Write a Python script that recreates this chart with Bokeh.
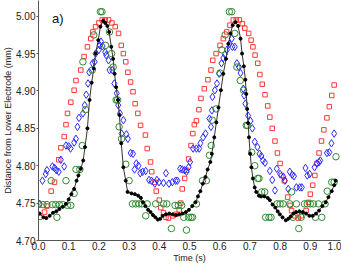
from bokeh.plotting import figure
from bokeh.models import Range1d, FixedTicker, Label
from bokeh.embed import file_html
from bokeh.resources import INLINE

# ---- data ----
black_t = [0.004, 0.017, 0.026, 0.037, 0.048, 0.059, 0.069, 0.080, 0.091, 0.100,
           0.109, 0.118, 0.126, 0.132, 0.140, 0.148, 0.154, 0.162, 0.169, 0.176,
           0.183, 0.189, 0.198, 0.205, 0.214, 0.221, 0.228, 0.234, 0.241, 0.247,
           0.252, 0.257, 0.263, 0.268, 0.274, 0.281, 0.289, 0.295, 0.308, 0.319,
           0.330, 0.339, 0.346, 0.354, 0.363, 0.371, 0.379, 0.387, 0.395, 0.403,
           0.411, 0.422, 0.433, 0.444, 0.455, 0.466, 0.477, 0.488, 0.498, 0.509,
           0.520, 0.528, 0.536, 0.544, 0.553, 0.560, 0.569, 0.574, 0.582, 0.589,
           0.596, 0.604, 0.612, 0.621, 0.629, 0.636, 0.643, 0.652, 0.661, 0.669,
           0.674, 0.680, 0.685, 0.688, 0.691, 0.694, 0.697, 0.701, 0.705, 0.710,
           0.716, 0.721, 0.730, 0.737, 0.748, 0.759, 0.766, 0.775, 0.784, 0.792,
           0.799, 0.808, 0.819, 0.827, 0.835, 0.844, 0.853, 0.864, 0.875, 0.886,
           0.897, 0.908, 0.919, 0.929, 0.940, 0.951, 0.960, 0.971, 0.979, 0.984]
black_y = [4.736, 4.731, 4.730, 4.733, 4.737, 4.739, 4.742, 4.745, 4.749, 4.755,
           4.762, 4.769, 4.780, 4.787, 4.796, 4.807, 4.825, 4.850, 4.888, 4.911,
           4.930, 4.950, 4.968, 4.986, 4.994, 4.991, 4.987, 4.979, 4.959, 4.943,
           4.923, 4.905, 4.888, 4.868, 4.830, 4.798, 4.780, 4.765, 4.763, 4.762,
           4.760, 4.757, 4.751, 4.746, 4.741, 4.738, 4.734, 4.731, 4.728, 4.729,
           4.733, 4.735, 4.736, 4.735, 4.734, 4.735, 4.736, 4.738, 4.741, 4.746,
           4.751, 4.759, 4.766, 4.776, 4.785, 4.795, 4.805, 4.816, 4.838, 4.858,
           4.878, 4.901, 4.923, 4.943, 4.963, 4.977, 4.988, 4.992, 4.987, 4.970,
           4.950, 4.933, 4.915, 4.896, 4.876, 4.857, 4.838, 4.816, 4.798, 4.783,
           4.771, 4.765, 4.760, 4.759, 4.759, 4.757, 4.754, 4.748, 4.744, 4.739,
           4.735, 4.731, 4.727, 4.729, 4.732, 4.736, 4.738, 4.739, 4.738, 4.736,
           4.733, 4.733, 4.736, 4.740, 4.746, 4.751, 4.758, 4.766, 4.774, 4.780]

red_t = [0.004, 0.020, 0.028, 0.042, 0.053, 0.067, 0.074, 0.085, 0.091, 0.096,
         0.107, 0.118, 0.124, 0.140, 0.151, 0.162, 0.173, 0.180, 0.189, 0.200,
         0.211, 0.221, 0.232, 0.243, 0.254, 0.265, 0.274, 0.281, 0.289, 0.296,
         0.305, 0.313, 0.320, 0.329, 0.338, 0.354, 0.360, 0.371, 0.375, 0.384,
         0.390, 0.400, 0.405, 0.414, 0.422, 0.430, 0.445, 0.455, 0.466, 0.471,
         0.476, 0.484, 0.490, 0.497, 0.505, 0.511, 0.516, 0.523, 0.531, 0.538,
         0.549, 0.561, 0.571, 0.577, 0.588, 0.601, 0.612, 0.623, 0.634, 0.645,
         0.655, 0.665, 0.675, 0.683, 0.696, 0.704, 0.710, 0.717, 0.726, 0.733,
         0.741, 0.750, 0.759, 0.766, 0.774, 0.783, 0.791, 0.800, 0.805, 0.814,
         0.825, 0.833, 0.838, 0.849, 0.860, 0.870, 0.886, 0.894, 0.900, 0.908,
         0.915, 0.922, 0.929, 0.937, 0.945, 0.955, 0.963, 0.971, 0.979]
red_y = [4.731, 4.738, 4.746, 4.766, 4.778, 4.808, 4.824, 4.839, 4.855, 4.870,
         4.885, 4.901, 4.914, 4.928, 4.946, 4.959, 4.970, 4.979, 4.986, 4.991,
         4.995, 4.995, 4.995, 4.991, 4.986, 4.977, 4.961, 4.950, 4.939, 4.925,
         4.912, 4.899, 4.883, 4.870, 4.854, 4.841, 4.823, 4.805, 4.792, 4.778,
         4.766, 4.754, 4.744, 4.737, 4.731, 4.730, 4.733, 4.735, 4.741, 4.750,
         4.769, 4.783, 4.794, 4.809, 4.827, 4.843, 4.855, 4.860, 4.875, 4.890,
         4.903, 4.915, 4.928, 4.941, 4.950, 4.961, 4.970, 4.979, 4.988, 4.995,
         4.995, 4.995, 4.990, 4.984, 4.977, 4.968, 4.959, 4.948, 4.937, 4.922,
         4.909, 4.895, 4.880, 4.865, 4.850, 4.833, 4.817, 4.803, 4.787, 4.780,
         4.758, 4.747, 4.740, 4.733, 4.730, 4.733, 4.740, 4.751, 4.762, 4.774,
         4.787, 4.803, 4.817, 4.833, 4.848, 4.864, 4.879, 4.894, 4.908]

blue_t = [0.004, 0.013, 0.024, 0.028, 0.046, 0.053, 0.059, 0.067, 0.074, 0.085,
          0.091, 0.100, 0.106, 0.118, 0.124, 0.129, 0.134, 0.147, 0.153, 0.158,
          0.164, 0.168, 0.179, 0.186, 0.189, 0.200, 0.203, 0.207, 0.212, 0.221,
          0.224, 0.232, 0.235, 0.244, 0.251, 0.259, 0.264, 0.270, 0.281, 0.275,
          0.291, 0.296, 0.305, 0.313, 0.318, 0.324, 0.331, 0.337, 0.345, 0.355,
          0.366, 0.374, 0.385, 0.392, 0.399, 0.414, 0.422, 0.432, 0.443, 0.454,
          0.460, 0.469, 0.476, 0.484, 0.490, 0.497, 0.502, 0.512, 0.523, 0.532,
          0.536, 0.545, 0.553, 0.566, 0.571, 0.574, 0.576, 0.584, 0.591, 0.598,
          0.606, 0.612, 0.617, 0.624, 0.632, 0.640, 0.642, 0.650, 0.657, 0.664,
          0.669, 0.678, 0.681, 0.685, 0.694, 0.702, 0.708, 0.716, 0.725, 0.732,
          0.738, 0.743, 0.750, 0.766, 0.774, 0.783, 0.789, 0.800, 0.811, 0.816,
          0.827, 0.832, 0.840, 0.846, 0.854, 0.865, 0.872, 0.884, 0.890, 0.898,
          0.914, 0.922, 0.929, 0.933, 0.955, 0.963, 0.970, 0.979]
blue_y = [4.749, 4.780, 4.789, 4.794, 4.799, 4.797, 4.794, 4.792, 4.808, 4.799,
          4.827, 4.826, 4.823, 4.831, 4.836, 4.852, 4.864, 4.870, 4.881, 4.895,
          4.910, 4.925, 4.937, 4.939, 4.950, 4.955, 4.961, 4.966, 4.960, 4.952,
          4.948, 4.941, 4.928, 4.928, 4.910, 4.897, 4.881, 4.870, 4.861, 4.843,
          4.842, 4.836, 4.817, 4.816, 4.795, 4.803, 4.800, 4.790, 4.792, 4.793,
          4.781, 4.780, 4.776, 4.781, 4.778, 4.777, 4.790, 4.776, 4.778, 4.780,
          4.780, 4.796, 4.795, 4.794, 4.792, 4.798, 4.805, 4.823, 4.823, 4.823,
          4.830, 4.838, 4.843, 4.863, 4.852, 4.874, 4.892, 4.901, 4.910, 4.923,
          4.937, 4.944, 4.949, 4.955, 4.963, 4.970, 4.959, 4.959, 4.937, 4.932,
          4.924, 4.903, 4.894, 4.883, 4.867, 4.860, 4.850, 4.832, 4.825, 4.816,
          4.813, 4.807, 4.804, 4.793, 4.781, 4.767, 4.796, 4.789, 4.785, 4.780,
          4.769, 4.792, 4.788, 4.786, 4.771, 4.771, 4.771, 4.797, 4.787, 4.789,
          4.798, 4.803, 4.805, 4.807, 4.817, 4.818, 4.830, 4.843]

green_t = [0.000, 0.015, 0.028, 0.042, 0.046, 0.057, 0.061, 0.069, 0.080, 0.091,
           0.096, 0.107, 0.118, 0.124, 0.137, 0.145, 0.147, 0.156, 0.178, 0.183,
           0.205, 0.210, 0.222, 0.235, 0.242, 0.247, 0.257, 0.262, 0.267, 0.275,
           0.289, 0.300, 0.311, 0.322, 0.333, 0.343, 0.355, 0.360, 0.388, 0.414,
           0.425, 0.440, 0.452, 0.463, 0.474, 0.481, 0.490, 0.497, 0.505, 0.510,
           0.523, 0.543, 0.556, 0.566, 0.572, 0.575, 0.588, 0.601, 0.607, 0.618,
           0.632, 0.640, 0.650, 0.657, 0.668, 0.679, 0.688, 0.692, 0.706, 0.716,
           0.726, 0.730, 0.739, 0.749, 0.752, 0.763, 0.770, 0.790, 0.800, 0.810,
           0.832, 0.838, 0.843, 0.854, 0.862, 0.870, 0.881, 0.890, 0.900, 0.910,
           0.917, 0.927, 0.938, 0.949, 0.956, 0.971, 0.979, 0.985]
green_y = [4.748, 4.748, 4.748, 4.780, 4.748, 4.748, 4.731, 4.748, 4.748, 4.780,
           4.747, 4.747, 4.763, 4.795, 4.795, 4.827, 4.939, 4.875, 4.928, 4.975,
           5.006, 5.006, 4.961, 4.979, 4.950, 4.932, 4.888, 4.888, 4.852, 4.836,
           4.802, 4.780, 4.749, 4.749, 4.749, 4.749, 4.733, 4.749, 4.749, 4.749,
           4.749, 4.716, 4.747, 4.747, 4.747, 4.731, 4.714, 4.731, 4.731, 4.731,
           4.749, 4.780, 4.780, 4.814, 4.827, 4.861, 4.876, 4.924, 4.955, 4.975,
           5.006, 5.006, 4.977, 4.932, 4.914, 4.901, 4.854, 4.854, 4.818, 4.800,
           4.783, 4.783, 4.765, 4.765, 4.731, 4.731, 4.731, 4.749, 4.749, 4.749,
           4.749, 4.765, 4.731, 4.749, 4.716, 4.731, 4.749, 4.749, 4.749, 4.749,
           4.731, 4.749, 4.731, 4.749, 4.766, 4.778, 4.778, 4.812]

x_ticks = [0.0, 0.1, 0.2, 0.3, 0.4, 0.5, 0.6, 0.7, 0.8, 0.9, 1.0]
y_ticks = [4.70, 4.75, 4.80, 4.85, 4.90, 4.95, 5.00]

FONT = "Liberation Sans"

p = figure(width=341, height=265, output_backend="svg", toolbar_location=None,
           x_range=Range1d(0.0, 1.0), y_range=Range1d(4.70, 5.021),
           min_border_left=0, min_border_right=1, min_border_top=0, min_border_bottom=0)
p.outline_line_color = None
p.grid.grid_line_color = None
p.background_fill_color = "white"
p.border_fill_color = "white"

# axes
p.xaxis.ticker = FixedTicker(ticks=x_ticks)
p.yaxis.ticker = FixedTicker(ticks=y_ticks)
p.xaxis.major_label_overrides = {t: f"{t:.1f}" for t in x_ticks}
p.yaxis.major_label_overrides = {t: f"{t:.2f}" for t in y_ticks}
p.xaxis.axis_label = "Time (s)"
p.yaxis.axis_label = "Distance from Lower Electrode (mm)"
for ax in (p.xaxis[0], p.yaxis[0]):
    ax.axis_line_color = "#555555"
    ax.axis_line_width = 1
    ax.major_tick_line_color = "#555555"
    ax.minor_tick_line_color = None
    ax.major_label_text_font = FONT
    ax.major_label_text_font_size = "10px"
    ax.major_label_text_color = "#222222"
    ax.axis_label_text_font = FONT
    ax.axis_label_text_font_size = "9px"
    ax.axis_label_text_font_style = "normal"
    ax.axis_label_text_color = "#222222"
    ax.major_label_standoff = 1
    ax.axis_label_standoff = 0
p.xaxis.major_tick_out = 0
p.xaxis.major_tick_in = 0
p.yaxis.major_tick_out = 2
p.yaxis.major_tick_in = 0

# series
p.scatter(red_t, red_y, marker="square", size=4.5, fill_color=None,
          line_color="#ff3838", line_width=1)
p.scatter(blue_t, blue_y, marker="diamond", size=7.5, fill_color=None,
          line_color="#2a2aff", line_width=1)
p.scatter(green_t, green_y, marker="circle", size=6.5, fill_color=None,
          line_color="#2e8b2e", line_width=1)
p.line(black_t, black_y, line_color="#333333", line_width=1)
p.scatter(black_t, black_y, marker="circle", size=3, fill_color="black",
          line_color="black")

p.add_layout(Label(x=0.045, y=4.997, text="a)", text_font=FONT,
                   text_font_size="13px", text_color="#111111",
                   text_baseline="middle"))

open("out.html", "w").write(file_html(p, INLINE))
